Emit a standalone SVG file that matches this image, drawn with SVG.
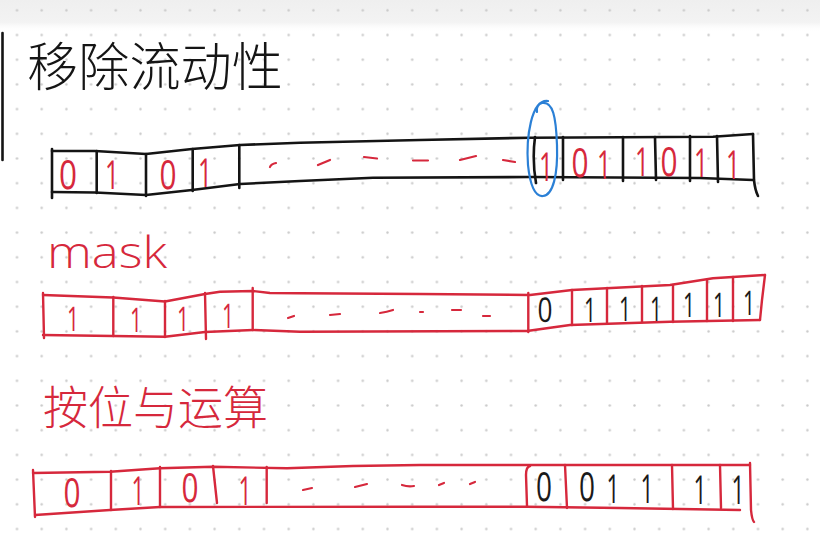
<svg xmlns="http://www.w3.org/2000/svg" width="820" height="546" viewBox="0 0 820 546">
  <defs>
    <pattern id="dots" patternUnits="userSpaceOnUse" x="4.65" y="22.65" width="24.7" height="24.7">
      <circle cx="12.35" cy="12.35" r="1.2" fill="#c9c9c9"/>
    </pattern>
    <linearGradient id="topband" x1="0" y1="0" x2="0" y2="1">
      <stop offset="0" stop-color="#efefef"/>
      <stop offset="0.7" stop-color="#f3f3f3"/>
      <stop offset="1" stop-color="#ffffff" stop-opacity="0"/>
    </linearGradient>
  </defs>
  <style>
    .blk { fill: none; stroke: #141414; stroke-width: 2.6; stroke-linecap: round; stroke-linejoin: round; }
    .red { fill: none; stroke: #d6283c; stroke-width: 2.4; stroke-linecap: round; stroke-linejoin: round; }
    .dash { fill: none; stroke: #d6283c; stroke-width: 2.2; stroke-linecap: round; }
    .blue { fill: none; stroke: #2b80d6; stroke-width: 2.2; stroke-linecap: round; }
    .d { font-family: "Open Sans", "Liberation Sans", sans-serif; font-weight: 400; text-anchor: middle; text-rendering: geometricPrecision; }
    .dr { fill: #d6283c; }
    .dk { fill: #1a1a1a; }
    .t1 { font-size: 40px; }
    .t2 { font-size: 34px; }
    .t3 { font-size: 40px; }
    .cjk { font-family: "Noto Sans CJK SC", "Noto Sans CJK JP", sans-serif; font-weight: 300; }
  </style>

  <rect width="820" height="546" fill="#ffffff"/>
  <rect width="820" height="32" fill="url(#topband)"/>
  <rect width="820" height="546" fill="url(#dots)"/>

  <!-- left margin line -->
  <path class="blk" d="M2.5,33 L2.5,160" stroke-width="3"/>

  <!-- Title -->
  <g id="title">
    <text class="cjk" x="27" y="86" font-size="52" fill="#151515" textLength="256" lengthAdjust="spacingAndGlyphs">移除流动性</text>
  </g>

  <!-- Row 1: black register with red bits -->
  <g id="row1">
    <path class="blk" d="M52,151 L95,151 L146,154 L192,149 L240,145 L300,142.7 L420,140 L530,137.7 L713,136.7 L753,134"/>
    <path class="blk" d="M52,192 L95,192.5 L146,195 L192,190 L240,184 L300,181 L373,177.7 L530,177 L700,178 L753,180"/>
    <path class="blk" d="M52,149 L52,198"/>
    <path class="blk" d="M753,134 L754,180 Q755,190 758,196"/>
    <path class="blk" d="M96.7,151 L96.7,193 M146,154 L146,196 M192.7,149 L192.7,191 M239.3,145 L239.3,188 M535,137 Q532,160 536,183 M563,137 L563,180 M623,137 L623,181 M655,137 L656,180 M690,136 L690,181 M717,136 L718,182"/>
    <text class="d dr t1" x="68" y="189" textLength="18" lengthAdjust="spacingAndGlyphs">0</text>
    <text class="d dr t1" x="112" y="189" textLength="14" lengthAdjust="spacingAndGlyphs">1</text>
    <text class="d dr t1" x="168" y="189" textLength="17" lengthAdjust="spacingAndGlyphs">0</text>
    <text class="d dr t1" x="205" y="187" textLength="14" lengthAdjust="spacingAndGlyphs">1</text>
    <text class="d dr t1" x="546" y="181" textLength="14" lengthAdjust="spacingAndGlyphs">1</text>
    <text class="d dr t1" x="580" y="177" textLength="17" lengthAdjust="spacingAndGlyphs">0</text>
    <text class="d dr t1" x="604" y="179" textLength="14" lengthAdjust="spacingAndGlyphs">1</text>
    <text class="d dr t1" x="642" y="176" textLength="14" lengthAdjust="spacingAndGlyphs">1</text>
    <text class="d dr t1" x="669" y="176" textLength="17" lengthAdjust="spacingAndGlyphs">0</text>
    <text class="d dr t1" x="701" y="177" textLength="14" lengthAdjust="spacingAndGlyphs">1</text>
    <text class="d dr t1" x="733" y="179" textLength="14" lengthAdjust="spacingAndGlyphs">1</text>
    <path class="dash" d="M270,167 Q271,164 276,163 M318,165 L330,160 M364,157 L377,158.5 M413,160.5 L428,160.5 M460,160 L476,156 M503,160 L515,162"/>
  </g>

  <!-- highlight -->
  <g id="highlight">
    <path class="blue" d="M548,101 C531,99 526,138 528,165 C530,185 535,197 543,196 C553,195 558,175 557,145 C556,117 553,101 542,103 C538,104 536,108 537,112"/>
  </g>

  <!-- mask label -->
  <g id="mask-label">
    <text x="47" y="268" font-family="Open Sans, Liberation Sans, sans-serif" font-weight="300" font-size="44" fill="#d6283c" textLength="120" lengthAdjust="spacingAndGlyphs">mask</text>
  </g>

  <!-- Row 2: mask register -->
  <g id="row2">
    <path class="red" d="M43,295 L113,297.5 L165,301.5 L205,294 L220,291.7 L253,291 L270,293 L300,293.3 L420,294 L530,295 L572,290 L670,285 L713,278.3 L765,275"/>
    <path class="red" d="M43,335 L113,336 L165,336.7 L205,332 L253,330 L300,331.7 L527,331 L570,325 L670,321.7 L760,320"/>
    <path class="red" d="M43,293 L44,338"/>
    <path class="red" d="M765,275 L762,300 L760,320"/>
    <path class="red" d="M113.3,297 L113.3,336 M165,301 L165,337 M205,293 L206,339 M252.7,288 L252.7,330 M528.3,293 L528.3,332 M572,290 L572,325 M607,288 L607,323 M642,286 L642,322 M673,285 L673,322 M707,280 L707,321 M733,277 L733,321"/>
    <text class="d dr t2" x="73" y="331" textLength="12" lengthAdjust="spacingAndGlyphs">1</text>
    <text class="d dr t2" x="136" y="332" textLength="12" lengthAdjust="spacingAndGlyphs">1</text>
    <text class="d dr t2" x="183" y="331" textLength="12" lengthAdjust="spacingAndGlyphs">1</text>
    <text class="d dr t2" x="228" y="328" textLength="12" lengthAdjust="spacingAndGlyphs">1</text>
    <text class="d dk t2" x="545" y="322" textLength="15" lengthAdjust="spacingAndGlyphs">0</text>
    <text class="d dk t2" x="590" y="322" textLength="12" lengthAdjust="spacingAndGlyphs">1</text>
    <text class="d dk t2" x="625" y="321" textLength="12" lengthAdjust="spacingAndGlyphs">1</text>
    <text class="d dk t2" x="656" y="321" textLength="12" lengthAdjust="spacingAndGlyphs">1</text>
    <text class="d dk t2" x="689" y="317" textLength="12" lengthAdjust="spacingAndGlyphs">1</text>
    <text class="d dk t2" x="719" y="317" textLength="12" lengthAdjust="spacingAndGlyphs">1</text>
    <text class="d dk t2" x="749" y="315" textLength="12" lengthAdjust="spacingAndGlyphs">1</text>
    <path class="dash" d="M288,318 L294,316 M330,315 L340,314 M380,313 Q387,312 393,310 M420,312 L423,312 M452,310 L461,310 M483,316 L490,316"/>
  </g>

  <!-- and label -->
  <g id="and-label">
    <text class="cjk" x="43" y="424" font-size="46" fill="#d6283c" textLength="225" lengthAdjust="spacingAndGlyphs">按位与运算</text>
  </g>

  <!-- Row 3: result register -->
  <g id="row3">
    <path class="red" d="M33,473 L110,471.7 L160,468.3 L213,466.7 L287,468.3 L353,466 L420,465 L750,465"/>
    <path class="red" d="M35,515 L110,510 L160,507 L420,506.7 L527,506.7 L620,508 L740,510"/>
    <path class="red" d="M33,470 L35,517"/>
    <path class="red" d="M750,463 L751,510 Q752,520 754,522"/>
    <path class="red" d="M111,471 L111,510 M160,467 L160,507 M213,466 L217,503 M266.7,467 L266.7,503 M530,466 Q526,467 526,475 L527,506 M565,465 L567,508 M672,465 L673,509 M720,465 L721,508"/>
    <text class="d dr t3" x="72" y="507" textLength="17" lengthAdjust="spacingAndGlyphs">0</text>
    <text class="d dr t3" x="138" y="505" textLength="13" lengthAdjust="spacingAndGlyphs">1</text>
    <text class="d dr t3" x="190" y="502" textLength="17" lengthAdjust="spacingAndGlyphs">0</text>
    <text class="d dr t3" x="245" y="505" textLength="13" lengthAdjust="spacingAndGlyphs">1</text>
    <text class="d dk t3" x="544" y="501" textLength="16" lengthAdjust="spacingAndGlyphs">0</text>
    <text class="d dk t3" x="587" y="501" textLength="16" lengthAdjust="spacingAndGlyphs">0</text>
    <text class="d dk t3" x="613" y="503" textLength="13" lengthAdjust="spacingAndGlyphs">1</text>
    <text class="d dk t3" x="647" y="503" textLength="13" lengthAdjust="spacingAndGlyphs">1</text>
    <text class="d dk t3" x="700" y="504" textLength="13" lengthAdjust="spacingAndGlyphs">1</text>
    <text class="d dk t3" x="738" y="504" textLength="13" lengthAdjust="spacingAndGlyphs">1</text>
    <path class="dash" d="M303,490 L312,488 M355,487 L367,484 M402,485 Q408,487 414,486 M439,485 L444,483 M470,484 L475,482"/>
  </g>
</svg>
